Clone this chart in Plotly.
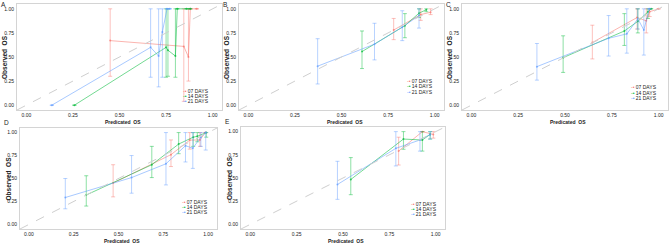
import plotly.graph_objects as go

W, H = 669, 243

# ---------------- data (predicted, observed, lower CI, upper CI) ----------------
series_names = ["07 DAYS", "14 DAYS", "21 DAYS"]
series_colors = ["#F8766D", "#00BA38", "#619CFF"]
panel_labels = ["A", "B", "C", "D", "E"]
tick_vals = [0.0, 0.25, 0.5, 0.75, 1.0]
tick_text = ["0.00", "0.25", "0.50", "0.75", "1.00"]

# Panel A
A_07_x = [0.45, 0.845, 0.87, 0.88, 0.915]
A_07_y = [0.67, 0.61, 0.50, 1.00, 1.00]
A_07_lo = [0.30, 0.04, 0.25, 1.00, 1.00]
A_07_hi = [1.00, 1.00, 1.00, 1.00, 1.00]
A_14_x = [0.258, 0.75, 0.76, 0.80, 0.81, 0.86, 0.88]
A_14_y = [0.00, 0.60, 0.57, 0.51, 1.00, 1.00, 1.00]
A_14_lo = [0.00, 0.29, 0.30, 0.29, 1.00, 1.00, 1.00]
A_14_hi = [0.00, 1.00, 1.00, 1.00, 1.00, 1.00, 1.00]
A_21_x = [0.137, 0.667, 0.71, 0.73, 0.755, 0.77]
A_21_y = [0.00, 0.60, 0.51, 0.76, 1.00, 1.00]
A_21_lo = [0.00, 0.29, 0.19, 0.29, 1.00, 1.00]
A_21_hi = [0.00, 1.00, 1.00, 1.00, 1.00, 1.00]

# Panel B
B_07_x = [0.78, 0.925, 0.978]
B_07_y = [0.78, 0.94, 0.965]
B_07_lo = [0.68, 0.88, 0.94]
B_07_hi = [0.90, 1.00, 1.00]
B_14_x = [0.61, 0.84, 0.916, 0.955]
B_14_y = [0.556, 0.825, 0.955, 0.99]
B_14_lo = [0.38, 0.70, 0.91, 0.97]
B_14_hi = [0.77, 0.95, 1.00, 1.00]
B_21_x = [0.372, 0.677, 0.826, 0.916]
B_21_y = [0.405, 0.633, 0.81, 0.93]
B_21_lo = [0.22, 0.47, 0.67, 0.80]
B_21_hi = [0.69, 0.85, 0.98, 1.00]

# Panel C
C_07_x = [0.646, 0.885, 0.934, 0.952, 1.00]
C_07_y = [0.65, 0.91, 0.875, 0.97, 1.00]
C_07_lo = [0.48, 0.79, 0.75, 0.92, 1.00]
C_07_hi = [0.83, 1.00, 1.00, 1.00, 1.00]
C_14_x = [0.49, 0.817, 0.889, 0.943, 0.96]
C_14_y = [0.493, 0.77, 0.87, 0.97, 1.00]
C_14_lo = [0.34, 0.62, 0.75, 0.90, 1.00]
C_14_hi = [0.72, 0.95, 1.00, 1.00, 1.00]
C_21_x = [0.35, 0.733, 0.83, 0.889, 0.921, 0.95]
C_21_y = [0.40, 0.694, 0.74, 0.896, 0.78, 1.00]
C_21_lo = [0.26, 0.51, 0.54, 0.79, 0.52, 1.00]
C_21_hi = [0.64, 0.93, 1.00, 1.00, 1.00, 1.00]

# Panel D
D_07_x = [0.47, 0.793, 0.898, 0.955, 0.985]
D_07_y = [0.45, 0.76, 0.918, 0.92, 1.00]
D_07_lo = [0.30, 0.63, 0.82, 0.85, 1.00]
D_07_hi = [0.65, 0.92, 1.00, 1.00, 1.00]
D_14_x = [0.32, 0.686, 0.836, 0.917, 0.94, 0.99]
D_14_y = [0.32, 0.65, 0.875, 0.95, 0.96, 1.00]
D_14_lo = [0.20, 0.51, 0.77, 0.85, 0.90, 0.95]
D_14_hi = [0.53, 0.85, 1.00, 1.00, 1.00, 1.00]
D_21_x = [0.203, 0.573, 0.765, 0.874, 0.915, 0.96, 0.987]
D_21_y = [0.293, 0.51, 0.66, 0.857, 0.83, 0.95, 1.00]
D_21_lo = [0.17, 0.34, 0.43, 0.68, 0.61, 0.85, 0.81]
D_21_hi = [0.50, 0.75, 1.00, 1.00, 1.00, 1.00, 1.00]

# Panel E
E_07_x = [0.80, 0.928, 0.987]
E_07_y = [0.79, 1.00, 0.97]
E_07_lo = [0.64, 1.00, 0.93]
E_07_hi = [0.94, 1.00, 1.00]
E_14_x = [0.542, 0.826, 0.928, 0.97]
E_14_y = [0.484, 0.92, 0.91, 0.97]
E_14_lo = [0.32, 0.81, 0.79, 0.92]
E_14_hi = [0.72, 1.00, 1.00, 1.00]
E_21_x = [0.47, 0.785, 0.915, 0.97]
E_21_y = [0.43, 0.82, 0.91, 0.97]
E_21_lo = [0.27, 0.63, 0.79, 0.92]
E_21_hi = [0.68, 1.00, 1.00, 1.00]

panels = [
    [(A_07_x, A_07_y, A_07_lo, A_07_hi), (A_14_x, A_14_y, A_14_lo, A_14_hi), (A_21_x, A_21_y, A_21_lo, A_21_hi)],
    [(B_07_x, B_07_y, B_07_lo, B_07_hi), (B_14_x, B_14_y, B_14_lo, B_14_hi), (B_21_x, B_21_y, B_21_lo, B_21_hi)],
    [(C_07_x, C_07_y, C_07_lo, C_07_hi), (C_14_x, C_14_y, C_14_lo, C_14_hi), (C_21_x, C_21_y, C_21_lo, C_21_hi)],
    [(D_07_x, D_07_y, D_07_lo, D_07_hi), (D_14_x, D_14_y, D_14_lo, D_14_hi), (D_21_x, D_21_y, D_21_lo, D_21_hi)],
    [(E_07_x, E_07_y, E_07_lo, E_07_hi), (E_14_x, E_14_y, E_14_lo, E_14_hi), (E_21_x, E_21_y, E_21_lo, E_21_hi)],
]

# legend anchor (data coords of first row) per panel
legend_pos = [(0.83, 0.15), (0.84, 0.25), (0.84, 0.185), (0.846, 0.245), (0.856, 0.225)]

# ---------------- layout (pixel boxes: left, top, right, bottom) ----------------
boxes = [(17, 4, 222, 110), (239, 4, 444, 110), (462, 4, 668, 110),
         (20, 128, 217, 229), (241, 127, 445, 229)]

def px(x):
    return x / W

def py(y):
    return 1 - y / H

AX_RANGE = [-0.05, 1.05]
FONT = "Liberation Sans, Arial, sans-serif"

fig = go.Figure()
layout = dict(width=W, height=H, margin=dict(l=0, r=0, t=0, b=0, autoexpand=False),
              template="none",
              paper_bgcolor="white", plot_bgcolor="white", showlegend=False,
              font=dict(family=FONT, color="#333333"))
annotations = []
shapes = []

def hex_rgba(h, a):
    h = h.lstrip("#")
    r, g, b = int(h[0:2], 16), int(h[2:4], 16), int(h[4:6], 16)
    return f"rgba({r},{g},{b},{a})"

for i, (box, data) in enumerate(zip(boxes, panels)):
    n = i + 1
    xa = "x" if n == 1 else f"x{n}"
    ya = "y" if n == 1 else f"y{n}"
    l, t, r, b = box
    axis_common = dict(range=AX_RANGE, showgrid=False, zeroline=False, automargin=False,
                       showline=True, mirror=True, linecolor="#d4d4d4", linewidth=1,
                       ticks="", tickvals=tick_vals, ticktext=tick_text,
                       tickfont=dict(size=5, color="#222222", family=FONT))
    layout["xaxis" if n == 1 else f"xaxis{n}"] = dict(axis_common, domain=[px(l), px(r)],
                                                       anchor=ya, ticklabelstandoff=0)
    layout["yaxis" if n == 1 else f"yaxis{n}"] = dict(axis_common, domain=[py(b), py(t)],
                                                       anchor=xa, ticklabelstandoff=1)
    # diagonal reference
    shapes.append(dict(type="line", xref=xa, yref=ya, x0=AX_RANGE[0], y0=AX_RANGE[0],
                       x1=AX_RANGE[1], y1=AX_RANGE[1],
                       line=dict(color="#cfcfcf", width=1, dash="dash")))
    for (sx, sy, lo, hi), name, col in zip(data, series_names, series_colors):
        fig.add_trace(go.Scatter(
            x=sx, y=sy, mode="lines+markers", name=name, xaxis=xa, yaxis=ya,
            line=dict(color=hex_rgba(col, 0.55), width=1),
            marker=dict(color=hex_rgba(col, 0.7), size=2),
            error_y=dict(type="data", symmetric=False,
                         array=[h - v for h, v in zip(hi, sy)],
                         arrayminus=[v - lo_ for v, lo_ in zip(sy, lo)],
                         color=hex_rgba(col, 0.45), thickness=1, width=2),
        ))
    # legend as annotations
    lx, ly = legend_pos[i]
    for k, (name, col) in enumerate(zip(series_names, series_colors)):
        annotations.append(dict(
            xref=xa, yref=ya, x=lx, y=ly - k * 0.055, xanchor="left", yanchor="middle",
            text=f'<span style="color:{col}">-•</span> {name}', showarrow=False,
            font=dict(size=5, color="#222222", family=FONT)))
    # panel label
    annotations.append(dict(xref="paper", yref="paper", x=px(l - 17), y=py(max(0, t - 10)),
                            xanchor="left", yanchor="top", text=panel_labels[i],
                            borderpad=0, showarrow=False,
                            font=dict(size=6.5, color="#222222", family=FONT)))
    # axis titles
    annotations.append(dict(xref="paper", yref="paper", x=px((l + r) / 2 + 3), y=py(b + 8),
                            xanchor="center", yanchor="top", text="<b>Predicated  OS</b>",
                            borderpad=0, showarrow=False,
                            font=dict(size=5, color="#222222", family=FONT)))
    annotations.append(dict(xref="paper", yref="paper", x=px(l - 12), y=py((t + b) / 2),
                            xanchor="center", yanchor="middle", text="<b>Observed  OS</b>",
                            textangle=-90, showarrow=False,
                            font=dict(size=6.5, color="#222222", family=FONT)))

layout["annotations"] = annotations
layout["shapes"] = shapes
fig.update_layout(**layout)
fig.write_html("out.html", config={"displayModeBar": False},
               post_script="document.body.style.margin='0';document.body.style.padding='0';")
